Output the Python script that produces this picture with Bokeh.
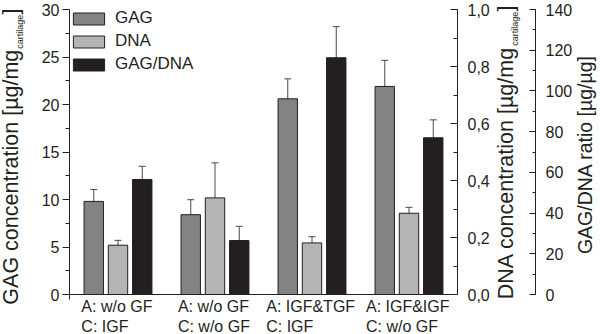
import math
from bokeh.plotting import figure
from bokeh.models import (ColumnDataSource, Range1d, LinearAxis, SingleIntervalTicker,
                          FixedTicker, CustomJSTickFormatter, Whisker, TeeHead, Label,
                          Legend, LegendItem)
from bokeh.core.properties import value
from bokeh.transform import dodge
from bokeh.embed import file_html
from bokeh.resources import INLINE

# ---------------- data ----------------
groups = ["A: w/o GF\nC: IGF", "A: w/o GF\nC: w/o GF",
          "A: IGF&TGF\nC: IGF", "A: IGF&IGF\nC: w/o GF"]
gag = [9.8, 8.4, 20.6, 21.9]              # µg/mg cartilage (left axis)
gag_err = [1.25, 1.58, 2.1, 2.75]
dna = [0.173, 0.339, 0.181, 0.285]        # µg/mg cartilage (DNA axis)
dna_err_lo = [0.016, 0.222, 0.023, 0.017]
dna_err_hi = [0.017, 0.123, 0.022, 0.021]
ratio = [56.5, 26.5, 116.3, 77.0]         # µg/µg (ratio axis)
ratio_err = [6.5, 7.0, 15.3, 8.8]
series = ["GAG", "DNA", "GAG/DNA"]

# ---------------- styling / layout constants ----------------
FONT = "Liberation Sans"
INK = "#231f20"
GAG_C = "#838383"
DNA_C = "#b4b4b4"
RAT_C = "#231f20"
WHISK = "#4a4a4a"

CW, CH = 600, 334                     # canvas
FL, FR, FT, FB = 69, 457, 9, 294      # plotting area inside the canvas (px)
RATIO_AXIS_PX = 535                   # x of the outer (ratio) axis line

# Arial / Liberation Sans advance widths (em) for positioning composite texts
W = {'G': .778, 'A': .667, ' ': .278, 'c': .5, 'o': .556, 'n': .556, 'e': .556,
     't': .278, 'r': .333, 'a': .556, 'i': .222, '[': .278, ']': .278, 'µ': .576,
     'g': .556, '/': .278, 'm': .833, 'l': .222, 'D': .722, 'N': .722, 'C': .722,
     'I': .278, 'F': .611, '&': .667, 'T': .611, 'w': .722, ':': .278}
K = 1.03          # measured rendering factor
MID = 0.3465      # baseline below the em-box middle (em)

def tw(s, size):
    return sum(W.get(ch, .556) for ch in s) * size * K

# ranges: the frame is the whole canvas, data extents map onto the plotting area
xpos = list(range(1, len(groups) + 1))
x0, x1 = 0.5, len(groups) + 0.5
xs = (FR - FL) / (x1 - x0)

def yr(top):
    s = (FB - FT) / top
    return Range1d(-(CH - FB) / s, top + FT / s)

x_range = Range1d(x0 - FL / xs, x1 + (CW - FR) / xs)

label_size = 16
src = ColumnDataSource(dict(
    x=xpos,
    label=groups,
    label_off=[-max(tw(l, label_size) for l in g.split("\n")) / 2 for g in groups],
    gag=gag,
    gag_lo=[v - e for v, e in zip(gag, gag_err)],
    gag_hi=[v + e for v, e in zip(gag, gag_err)],
    dna=dna,
    dna_lo=[v - e for v, e in zip(dna, dna_err_lo)],
    dna_hi=[v + e for v, e in zip(dna, dna_err_hi)],
    ratio=ratio,
    ratio_hi=[v + e for v, e in zip(ratio, ratio_err)],
))

p = figure(width=CW, height=CH, output_backend="svg", toolbar_location=None,
           x_range=x_range, y_range=yr(30), x_axis_location=None, y_axis_location=None,
           min_border=0, min_border_left=0, min_border_right=0, min_border_top=0,
           min_border_bottom=0)
p.outline_line_color = None
p.grid.visible = False
p.background_fill_color = "white"
p.border_fill_color = "white"
p.extra_y_ranges = {"dna": yr(1.0), "ratio": yr(140)}

common = dict(axis_line_color=INK, major_tick_line_color=INK, minor_tick_line_color=INK,
              major_label_text_font=FONT, major_label_text_font_size="16px",
              major_label_text_color=INK)

# x axis line (no ticks; group labels are drawn as text below)
xa = LinearAxis(ticker=FixedTicker(ticks=[]), fixed_location=0, bounds=(x0 - 0.03, x1),
                major_tick_line_color=None, minor_tick_line_color=None,
                axis_line_color=INK)
p.add_layout(xa, "below")

# left axis
ya = LinearAxis(ticker=SingleIntervalTicker(interval=5, num_minor_ticks=2),
                fixed_location=x0, bounds=(-0.5, 30),
                major_tick_in=0, major_tick_out=7, minor_tick_in=0, minor_tick_out=4,
                major_label_standoff=3, **common)
p.add_layout(ya, "left")

# DNA axis
dna_axis = LinearAxis(y_range_name="dna", fixed_location=x1, bounds=(0, 1),
                      ticker=SingleIntervalTicker(interval=0.2, num_minor_ticks=2),
                      formatter=CustomJSTickFormatter(code="return tick.toFixed(1).replace('.', ',')"),
                      major_tick_in=7, major_tick_out=0, minor_tick_in=4, minor_tick_out=0,
                      major_label_standoff=10, **common)
p.add_layout(dna_axis, "right")

# GAG/DNA ratio axis
rat_axis = LinearAxis(y_range_name="ratio", fixed_location=x1 + (RATIO_AXIS_PX - FR) / xs,
                      bounds=(0, 140),
                      ticker=SingleIntervalTicker(interval=20, num_minor_ticks=2),
                      major_tick_in=6, major_tick_out=0, minor_tick_in=3, minor_tick_out=0,
                      major_label_standoff=10, **common)
p.add_layout(rat_axis, "right")

# bars
r_gag = p.vbar(x=dodge("x", -0.25), top="gag", width=0.2, source=src,
               fill_color=GAG_C, line_color=INK, line_width=1)
r_dna = p.vbar(x=dodge("x", 0.0), top="dna", width=0.2, source=src, y_range_name="dna",
               fill_color=DNA_C, line_color=INK, line_width=1)
r_rat = p.vbar(x=dodge("x", 0.25), top="ratio", width=0.2, source=src, y_range_name="ratio",
               fill_color=RAT_C, line_color=INK, line_width=1)

# group labels (two lines, left-aligned, block centred under the group)
p.text(x="x", y=0, text="label", source=src, x_offset="label_off", y_offset=3,
       text_align="left", text_baseline="top", text_font=value(FONT),
       text_font_size=value(f"{label_size}px"), text_color=INK, text_line_height=1.2)

# error bars
def head():
    return TeeHead(size=7, line_color=WHISK, line_width=1)

p.add_layout(Whisker(source=src, base=dodge("x", -0.25), lower="gag_lo", upper="gag_hi",
                     line_color=WHISK, line_width=1, upper_head=head(), lower_head=head()))
p.add_layout(Whisker(source=src, base=dodge("x", 0.0), lower="dna_lo", upper="dna_hi",
                     y_range_name="dna",
                     line_color=WHISK, line_width=1, upper_head=head(), lower_head=head()))
p.add_layout(Whisker(source=src, base=dodge("x", 0.25), lower="ratio", upper="ratio_hi",
                     y_range_name="ratio",
                     line_color=WHISK, line_width=1, upper_head=head(), lower_head=None))

# legend
legend = Legend(items=[LegendItem(label=series[0], renderers=[r_gag]),
                       LegendItem(label=series[1], renderers=[r_dna]),
                       LegendItem(label=series[2], renderers=[r_rat])],
                location=(FL, CH - FT - 65), margin=0, padding=3, spacing=3,
                glyph_width=39, glyph_height=15, label_height=15, label_standoff=7,
                label_text_font=FONT, label_text_font_size="17px", label_text_color=INK,
                border_line_color=None, background_fill_alpha=0)
p.add_layout(legend)

# axis titles with subscripts (screen units: from the canvas' bottom-left)
def rot_label(text, base_x, y, size, align="left"):
    p.add_layout(Label(x=base_x - MID * size, y=y, x_units="screen", y_units="screen",
                       angle=math.pi / 2, text=text, text_align=align,
                       text_baseline="middle", text_font=FONT,
                       text_font_size=f"{size}px", text_color=INK))

def sub_title(main, base_x, top_y, big=21.5, small=9, shift=5):
    # pieces are chained downward from the top end of the closing bracket
    rot_label("]", base_x, top_y, big, align="right")
    y2 = top_y - tw("]", big)
    rot_label("cartilage", base_x + shift, y2, small, align="right")
    y1 = y2 - tw("cartilage", small)
    rot_label(main, base_x, y1, big, align="right")

sub_title("GAG concentration [µg/mg", 18, CH - 8)
sub_title("DNA concentration [µg/mg", 513, CH - 5)
rot_label("GAG/DNA ratio [µg/µg]", 591, CH - 154, 19.5, align="center")

open("out.html", "w").write(file_html(p, INLINE))
